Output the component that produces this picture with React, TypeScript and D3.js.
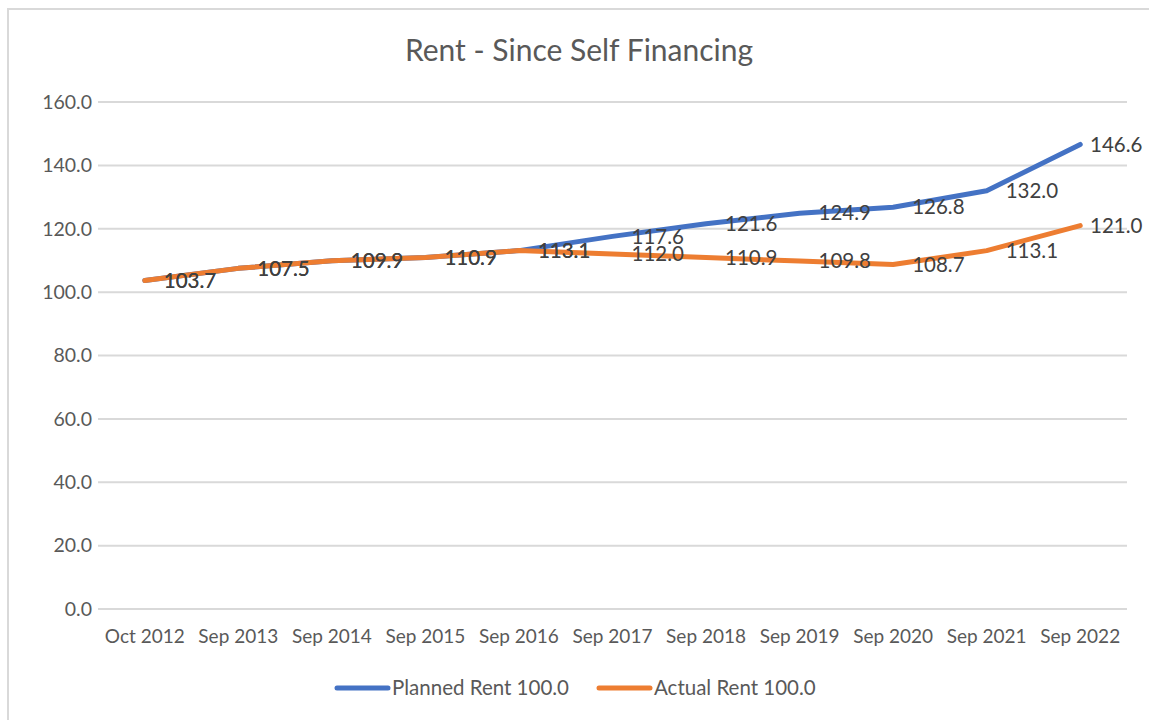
import React from "react";
import * as d3 from "d3";

const categories = ["Oct 2012", "Sep 2013", "Sep 2014", "Sep 2015", "Sep 2016", "Sep 2017", "Sep 2018", "Sep 2019", "Sep 2020", "Sep 2021", "Sep 2022"];
const plannedRent = [103.7, 107.5, 109.9, 110.9, 113.1, 117.6, 121.6, 124.9, 126.8, 132.0, 146.6];
const actualRent = [103.7, 107.5, 109.9, 110.9, 113.1, 112.0, 110.9, 109.8, 108.7, 113.1, 121.0];
const yTicks = [0, 20, 40, 60, 80, 100, 120, 140, 160];
const seriesNames = ["Planned Rent 100.0", "Actual Rent 100.0"];
const seriesColors = ["#4472C4", "#ED7D31"];

const W = 1149;
const H = 720;
const FONT = "Lato, 'Open Sans', sans-serif";

export default function App() {
  const x = d3.scaleBand<string>().domain(categories).range([98, 1127]);
  const y = d3.scaleLinear().domain([0, 160]).range([609, 102]);
  const cx = (c: string) => (x(c) as number) + x.bandwidth() / 2;
  const line = d3
    .line<number>()
    .x((_, i) => cx(categories[i]))
    .y((v) => y(v));
  const series = [plannedRent, actualRent];
  const labelX = (i: number) => Math.min(cx(categories[i]) + 19, 1090);
  const legendX = [337, 599];

  return (
    <svg width={W} height={H} style={{ position: "absolute", left: 0, top: 0, background: "#fff" }}>
      <rect x={0} y={0} width={W} height={H} fill="#fff" />
      <rect x={8} y={9} width={W + 20} height={H + 20} fill="#fff" stroke="#d9d9d9" strokeWidth={2} />
      <text x={579} y={61} textAnchor="middle" fontFamily={FONT} fontSize={30} fill="#595959">
        Rent - Since Self Financing
      </text>
      {yTicks.map((t) => (
        <g key={t}>
          <line x1={98} x2={1127} y1={y(t)} y2={y(t)} stroke="#d9d9d9" strokeWidth={2} />
          <text x={92} y={y(t)} dy="0.35em" textAnchor="end" fontFamily={FONT} fontSize={19.5} fill="#595959">
            {t.toFixed(1)}
          </text>
        </g>
      ))}
      {categories.map((c) => (
        <text key={c} x={cx(c)} y={643} textAnchor="middle" fontFamily={FONT} fontSize={19} fill="#595959">
          {c}
        </text>
      ))}
      {series.map((s, k) => (
        <path key={k} d={line(s) || ""} fill="none" stroke={seriesColors[k]} strokeWidth={5} strokeLinejoin="round" strokeLinecap="round" />
      ))}
      {series.map((s, k) =>
        s.map((v, i) => (
          <text key={`${k}-${i}`} x={labelX(i)} y={y(v)} dy="0.35em" fontFamily={FONT} fontSize={20.5} fill="#404040">
            {v.toFixed(1)}
          </text>
        ))
      )}
      {seriesNames.map((n, k) => {
        const lx = legendX[k];
        return (
          <g key={n}>
            <line x1={lx} x2={lx + 51} y1={688} y2={688} stroke={seriesColors[k]} strokeWidth={5} strokeLinecap="round" />
            <text x={lx + 55} y={688} dy="0.35em" fontFamily={FONT} fontSize={20.5} fill="#595959">
              {n}
            </text>
          </g>
        );
      })}
    </svg>
  );
}
